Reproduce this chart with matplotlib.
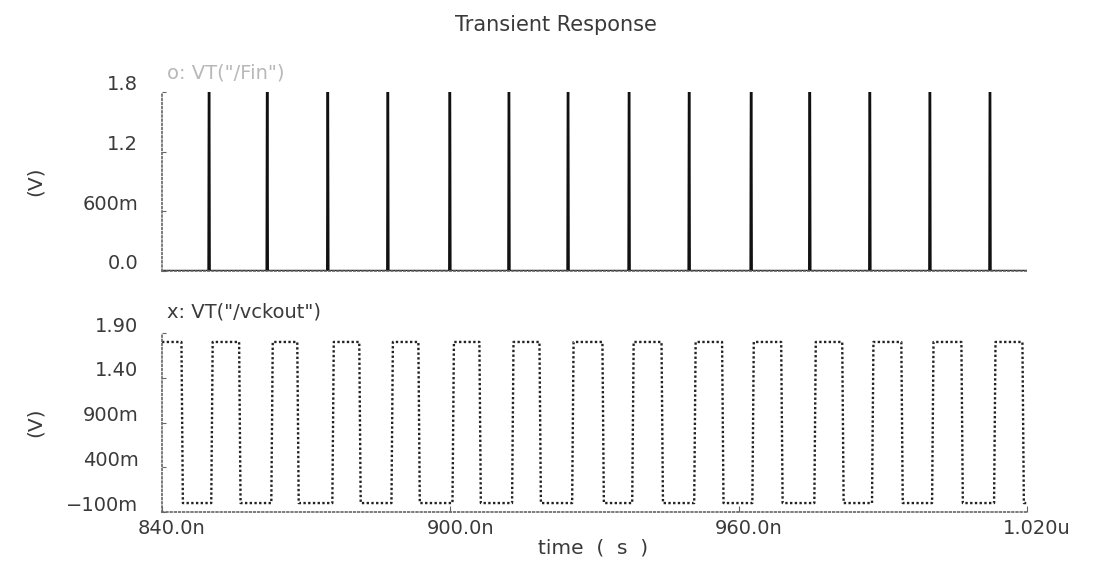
import matplotlib.pyplot as plt
from matplotlib.transforms import ScaledTranslation
import numpy as np

# spike times of the top trace (ns)
spike_t = [849.8, 861.9, 874.5, 887.0, 899.9, 912.2, 924.5, 937.2, 949.7, 962.6, 974.8, 987.3, 999.8, 1012.3]
spike_hi = 1.8

# clock edges of vckout (ns)
clk_fall = [844.2, 856.2, 868.3, 881.2, 893.5, 906.2, 918.7, 931.8, 944.1, 956.7, 969.0, 981.7, 994.0, 1006.5, 1019.2]
clk_rise = [850.4, 862.9, 875.6, 887.9, 900.6, 913.0, 925.5, 938.0, 950.9, 963.0, 975.9, 987.9, 1000.4, 1013.3]
clk_hi, clk_lo = 1.8, 0.0

t_start, t_end = 840.0, 1020.0
xticks = [840.0, 900.0, 960.0, 1020.0]
xlabels = ["840.0n", "900.0n", "960.0n", "1.020u"]
top_yticks = [0.0, 0.6, 1.2, 1.8]
top_ylabels = ["0.0", "600m", "1.2", "1.8"]
bot_yticks = [-0.1, 0.4, 0.9, 1.4, 1.9]
bot_ylabels = ["\u2212100m", "400m", "900m", "1.40", "1.90"]

txt = '#3a3a3a'
fs = 14
plt.rcParams['font.family'] = 'DejaVu Sans'

# build the waveforms from the edge lists
w = 0.12
st, sv = [t_start], [0.0]
for ts in spike_t:
    st += [ts - w, ts - w/3, ts + w/3, ts + w]
    sv += [0.0, spike_hi, spike_hi, 0.0]
st.append(t_end); sv.append(0.0)

edges = sorted([(t, clk_lo) for t in clk_fall] + [(t, clk_hi) for t in clk_rise])
ct, cv = [t_start], [clk_hi]
for t, v in edges:
    ct += [t - 0.15, t + 0.15]
    cv += [cv[-1], v]
ct.append(t_end); cv.append(cv[-1])

fig = plt.figure(figsize=(10.93, 5.65), dpi=100)
ax1 = fig.add_axes([0.1482, 0.5204, 0.7914, 0.3168])
ax2 = fig.add_axes([0.1482, 0.0938, 0.7914, 0.3168])

ax1.plot(st, sv, color='#111111', lw=1.7)
ax2.plot(ct, cv, color='#222222', lw=1.7, linestyle=(0, (1, 1)))

up = ScaledTranslation(0, 9/100, fig.dpi_scale_trans)
right = ScaledTranslation(10/100, 0, fig.dpi_scale_trans)

for ax, yt, yl in [(ax1, top_yticks, top_ylabels), (ax2, bot_yticks, bot_ylabels)]:
    ax.set_xlim(t_start, t_end)
    ax.set_ylim(yt[0], yt[-1])
    ax.set_yticks(yt, yl, fontsize=fs, color=txt)
    for s in ['top', 'right']:
        ax.spines[s].set_visible(False)
    for s in ['left', 'bottom']:
        ax.spines[s].set_linestyle((0, (1, 1.5)))
        ax.spines[s].set_color('#666666')
        ax.spines[s].set_linewidth(1.2)
    ax.tick_params(axis='y', direction='in', length=3, color='#666666', pad=17)
    for lab in ax.get_yticklabels():
        lab.set_transform(lab.get_transform() + up)

ax1.set_xticks([])
ax2.set_xticks(xticks, xlabels, fontsize=fs, color=txt)
ax2.tick_params(axis='x', direction='in', length=4, color='#666666', pad=5)
for lab in ax2.get_xticklabels():
    lab.set_transform(lab.get_transform() + right)

fig.text(0.509, 0.956, "Transient Response", ha='center', va='center', fontsize=15, color=txt)
fig.text(0.543, 0.030, "time  (  s  )", ha='center', va='center', fontsize=14.5, color=txt)
fig.text(0.032, 0.680, "(V)", ha='center', va='center', rotation=90, fontsize=14.5, color=txt)
fig.text(0.032, 0.253, "(V)", ha='center', va='center', rotation=90, fontsize=14.5, color=txt)
fig.text(0.153, 0.871, 'o: VT("/Fin")', ha='left', va='center', fontsize=fs, color='#b8b8b8')
fig.text(0.153, 0.448, 'x: VT("/vckout")', ha='left', va='center', fontsize=fs, color=txt)

plt.savefig("out.png", dpi=100)
